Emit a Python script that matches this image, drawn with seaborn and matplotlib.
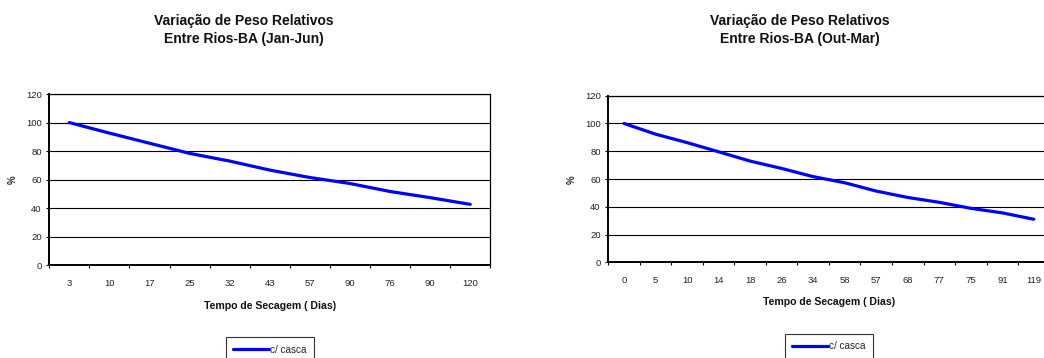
import numpy as np
import matplotlib
matplotlib.use("Agg")
import matplotlib.pyplot as plt
import seaborn as sns
import pandas as pd
from matplotlib.ticker import FixedLocator

# ---- data ----
labels_left = ["3", "10", "17", "25", "32", "43", "57", "90", "76", "90", "120"]
values_left = [100, 92.6, 85.5, 78.4, 73.0, 66.7, 61.5, 57.3, 51.7, 47.4, 42.7]

labels_right = ["0", "5", "10", "14", "18", "26", "34", "58", "57", "68", "77", "75", "91", "119"]
values_right = [100, 92.3, 86.2, 79.6, 72.9, 67.6, 61.7, 57.3, 51.3, 46.7, 43.2, 38.9, 35.6, 31.0]

series_name = "c/ casca"
title_left = "Variação de Peso Relativos\nEntre Rios-BA (Jan-Jun)"
title_right = "Variação de Peso Relativos\nEntre Rios-BA (Out-Mar)"
xlabel = "Tempo de Secagem ( Dias)"
ylabel = "%"
yticks = [0, 20, 40, 60, 80, 100, 120]

sns.set_theme(style="white")
plt.rcParams["font.family"] = ["Liberation Sans", "DejaVu Sans"]

W, H = 1044, 358
fig = plt.figure(figsize=(W / 100, H / 100), dpi=100)


def px_axes(left, right, top, bottom):
    return fig.add_axes([left / W, 1 - bottom / H, (right - left) / W, (bottom - top) / H])


def draw(ax, labels, values, title, title_x, ylab_x, leg_y):
    n = len(labels)
    df = pd.DataFrame({"pos": np.arange(n), "val": values})
    sns.lineplot(data=df, x="pos", y="val", ax=ax, color="#0000ff", lw=2.3,
                 label=series_name, legend=False)
    ax.set_xlim(-0.5, n - 0.5)
    ax.set_ylim(0, 120)
    ax.set_yticks(yticks)
    ax.set_xticks(np.arange(n))
    ax.set_xticklabels(labels)
    ax.xaxis.set_minor_locator(FixedLocator(np.arange(n + 1) - 0.5))
    ax.tick_params(axis="x", which="major", length=0, pad=10, labelsize=6.8, colors="#222222")
    ax.tick_params(axis="x", which="minor", length=2.5, width=0.8, direction="out",
                   bottom=True, color="black")
    ax.tick_params(axis="y", which="major", length=2.5, width=0.8, direction="out",
                   left=True, pad=3, labelsize=6.8, colors="#222222")
    ax.tick_params(axis="y", color="black")
    ax.grid(axis="y", color="black", lw=0.8)
    ax.grid(axis="x", visible=False)
    for s in ["left", "bottom", "right", "top"]:
        ax.spines[s].set_visible(True)
        ax.spines[s].set_color("black")
        ax.spines[s].set_linewidth(0.9)
    ax.spines["left"].set_linewidth(1.4)
    ax.spines["bottom"].set_linewidth(1.4)
    ax.set_xlabel("")
    ax.set_ylabel("")
    ax.text(0.5, -0.24, xlabel, transform=ax.transAxes, ha="center", va="center",
            fontsize=7.6, fontweight="bold", color="#111111")
    fig.text(ylab_x / W, 1 - 180 / H, ylabel, rotation=90, ha="center", va="center",
             fontsize=7, fontweight="bold")
    fig.text(title_x / W, 1 - 30 / H, title, ha="center", va="center",
             fontsize=10, fontweight="bold", linespacing=1.45, color="#111111")
    leg = ax.legend(loc="upper center", bbox_to_anchor=(0.5, leg_y), frameon=True,
                    fancybox=False, edgecolor="black", fontsize=7.2, handlelength=3.6,
                    handletextpad=0.1, borderpad=0.75, borderaxespad=0)
    leg.get_frame().set_linewidth(0.8)
    for line in leg.get_lines():
        line.set_linewidth(2.3)


ax1 = px_axes(49.3, 490.3, 94, 265.3)
draw(ax1, labels_left, values_left, title_left, 243.5, 13, -0.42)

ax2 = px_axes(608.3, 1049.6, 95.7, 262.3)
draw(ax2, labels_right, values_right, title_right, 800, 572, -0.43)

fig.savefig("out.png", dpi=100)
